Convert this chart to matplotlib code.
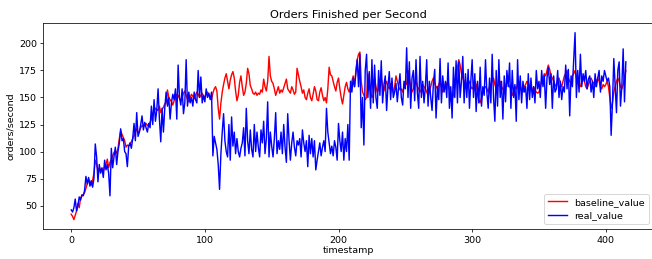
import matplotlib
matplotlib.use('Agg')
import matplotlib.pyplot as plt

# valeurs (une valeur par seconde, t = 0..415)
baseline_value = [
    42, 40, 37, 41, 45, 52, 48, 57, 59, 60,
    62, 66, 70, 74, 72, 69, 73, 80, 92, 88,
    82, 85, 83, 84, 82, 86, 88, 93, 85, 90,
    92, 96, 99, 101, 98, 103, 112, 119, 116, 113,
    110, 104, 106, 105, 107, 109, 112, 115, 118, 121,
    117, 119, 122, 124, 123, 125, 126, 124, 125, 127,
    130, 134, 137, 140, 139, 138, 142, 136, 139, 141,
    144, 145, 157, 150, 148, 146, 143, 147, 150, 153,
    152, 149, 147, 150, 154, 156, 152, 148, 146, 150,
    153, 151, 149, 152, 155, 153, 150, 152, 154, 151,
    150, 153, 155, 152, 150, 148, 154, 158, 160, 156,
    140, 130, 145, 155, 162, 168, 172, 165, 158, 166,
    171, 174, 168, 156, 147, 152, 164, 170, 160, 152,
    155, 163, 177, 172, 161, 158, 154, 153, 155, 152,
    154, 153, 157, 155, 167, 160, 156, 165, 188, 170,
    165, 163, 158, 152, 156, 160, 154, 157, 155, 159,
    163, 167, 158, 156, 154, 160, 157, 153, 155, 177,
    171, 165, 160, 154, 157, 150, 148, 154, 158, 150,
    147, 153, 160, 156, 148, 147, 155, 159, 152, 147,
    150, 145, 158, 178, 171, 170, 165, 160, 156, 164,
    168, 158, 150, 144, 152, 160, 164, 158, 155, 160,
    165, 170, 160, 175, 185, 190, 192, 165, 155, 152,
    148, 150, 172, 160, 156, 150, 152, 168, 160, 155,
    158, 165, 168, 160, 156, 162, 165, 160, 158, 163,
    158, 155, 160, 170, 165, 160, 157, 158, 155, 160,
    165, 162, 175, 168, 160, 155, 158, 163, 165, 160,
    158, 155, 157, 162, 160, 158, 155, 152, 156, 160,
    165, 168, 163, 160, 158, 162, 165, 160, 155, 158,
    160, 163, 165, 158, 155, 148, 152, 160, 165, 178,
    185, 180, 172, 168, 165, 160, 158, 162, 165, 160,
    158, 160, 165, 162, 155, 148, 145, 150, 155, 158,
    160, 158, 155, 160, 162, 165, 168, 162, 158, 160,
    162, 165, 160, 158, 155, 160, 165, 163, 160, 158,
    152, 155, 160, 158, 162, 165, 160, 157, 155, 160,
    162, 165, 163, 160, 158, 155, 160, 157, 155, 154,
    155, 160, 165, 168, 172, 170, 175, 180, 176, 170,
    168, 165, 162, 160, 165, 168, 163, 160, 165, 170,
    172, 175, 168, 165, 163, 170, 172, 175, 168, 165,
    162, 160, 165, 168, 165, 160, 158, 162, 165, 168,
    165, 163, 160, 165, 168, 165, 160, 158, 162, 160,
    162, 165, 160, 150, 140, 145, 155, 160, 165, 168,
    165, 160, 158, 162, 168, 175,
]

real_value = [
    46, 44, 48, 56, 45, 50, 58, 55, 60, 59,
    64, 77, 70, 76, 68, 73, 67, 75, 107, 95,
    72, 88, 80, 85, 76, 92, 83, 88, 80, 59,
    103, 85, 95, 104, 88, 100, 108, 121, 110, 112,
    100, 98, 86, 105, 108, 103, 112, 126, 110, 136,
    114, 118, 125, 133, 120, 127, 122, 118, 126, 122,
    142, 125, 148, 128, 138, 158, 130, 109, 140, 118,
    140, 155, 142, 150, 130, 145, 153, 148, 158, 130,
    180, 150, 143, 158, 135, 145, 185, 142, 155, 145,
    150, 142, 155, 148, 145, 175, 150, 169, 145, 152,
    146, 158, 150, 154, 148, 155, 96, 114, 108, 102,
    88, 65, 98, 118, 135, 110, 100, 95, 125, 92,
    132, 105, 118, 98, 112, 100, 95, 103, 108, 122,
    96, 140, 110, 98, 120, 102, 95, 125, 100, 118,
    104, 95, 120, 108, 128, 98, 112, 146, 95, 118,
    105, 95, 112, 136, 98, 110, 102, 118, 98, 125,
    104, 90, 135, 110, 92, 108, 118, 104, 96, 110,
    106, 112, 95, 120, 108, 100, 110, 86, 115, 98,
    112, 95, 110, 83, 92, 100, 108, 96, 104, 110,
    100, 140, 118, 108, 98, 105, 96, 110, 104, 92,
    126, 110, 100, 118, 92, 112, 100, 125, 92, 165,
    155, 168, 160, 172, 185, 160, 190, 122, 150, 106,
    175, 190, 150, 174, 140, 185, 145, 180, 150, 140,
    175, 152, 184, 145, 162, 170, 138, 160, 174, 148,
    168, 150, 155, 163, 146, 160, 172, 150, 143, 165,
    158, 196, 150, 183, 140, 168, 175, 147, 185, 155,
    140, 188, 150, 165, 145, 160, 185, 142, 165, 150,
    138, 163, 176, 131, 160, 148, 186, 145, 170, 155,
    165, 150, 182, 140, 160, 131, 178, 150, 184, 145,
    183, 150, 165, 188, 145, 172, 150, 176, 140, 165,
    185, 150, 172, 137, 165, 145, 178, 142, 160, 152,
    185, 155, 140, 168, 145, 190, 150, 128, 175, 142,
    185, 150, 165, 130, 170, 146, 175, 160, 182, 140,
    175, 150, 162, 128, 185, 148, 170, 145, 165, 155,
    160, 140, 172, 148, 168, 150, 160, 145, 175, 158,
    165, 150, 175, 160, 170, 140, 168, 178, 162, 172,
    140, 170, 155, 158, 175, 150, 165, 148, 160, 155,
    180, 158, 176, 133, 170, 160, 185, 210, 150, 175,
    155, 190, 160, 172, 165, 175, 158, 167, 170, 155,
    165, 150, 172, 160, 168, 175, 155, 170, 165, 175,
    170, 165, 168, 160, 115, 145, 186, 160, 136, 175,
    183, 142, 160, 195, 146, 183,
]

timestamp = list(range(len(real_value)))

# figure rendue a ~68 dpi pour retrouver la taille du texte de l'original
dpi = 68
fig = plt.figure(figsize=(652 / dpi, 259 / dpi), dpi=dpi)
ax = fig.add_axes([0.0667, 0.116, 0.9357, 0.794])

ax.plot(timestamp, baseline_value, 'r-', label='baseline_value')
ax.plot(timestamp, real_value, 'b-', label='real_value')
ax.set_title('Orders Finished per Second')
ax.set_xlabel('timestamp', labelpad=2)
ax.set_ylabel('orders/second')
ax.set_yticks([50, 75, 100, 125, 150, 175, 200])
ax.legend(loc='lower right')

fig.savefig('out.png', dpi=dpi)
